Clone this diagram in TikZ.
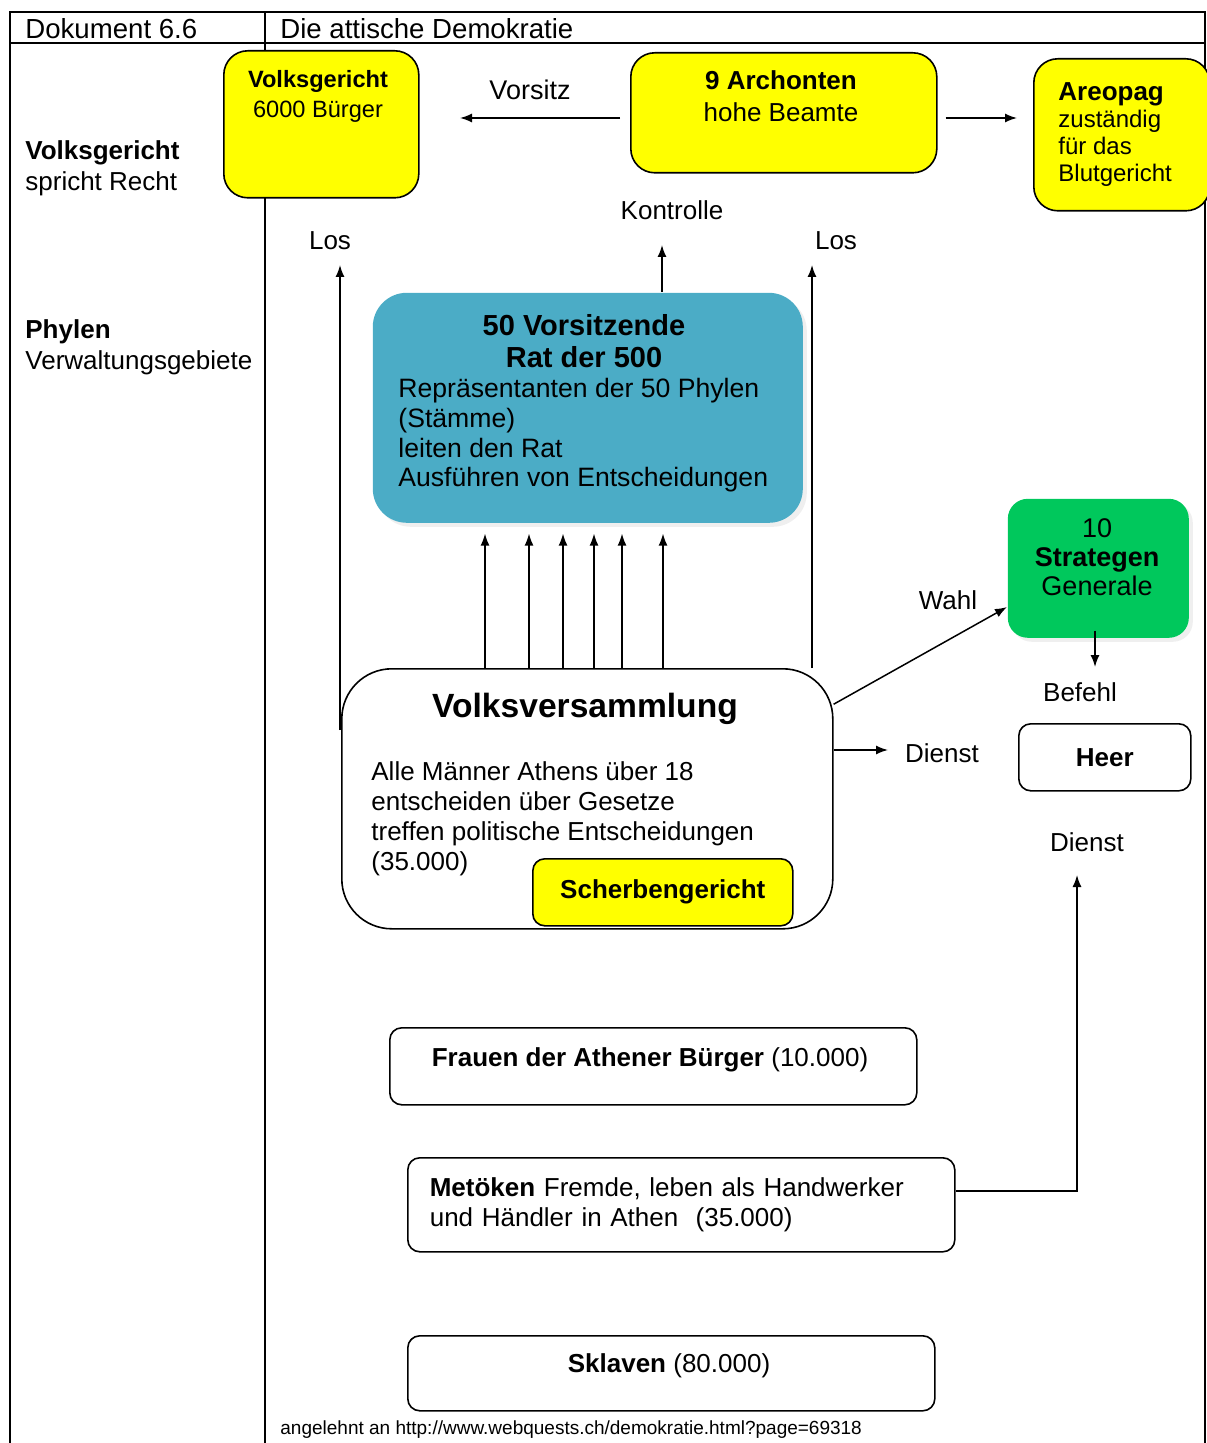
\documentclass[tikz,border=0pt]{standalone}
\usepackage{fontspec}
\setmainfont{Liberation Sans}
\usepackage{tikz}
\usetikzlibrary{arrows.meta, positioning, calc, shadows}
\usepackage{xcolor}
\definecolor{boxyellow}{RGB}{255,255,0}
\definecolor{ratblue}{RGB}{75,172,198}
\definecolor{stratgreen}{RGB}{0,200,92}

\begin{document}
\begin{tikzpicture}[x=0.5pt, y=-0.5pt,
    box/.style={draw, line width=0.8pt, rounded corners=6pt, anchor=north west, inner sep=0pt},
    ybox/.style={box, fill=boxyellow},
    lbl/.style={font=\fontsize{13}{15}\selectfont},
    arr/.style={-{Latex[length=6pt,width=4.5pt]}, line width=0.75pt}]
  \useasboundingbox (0,0) rectangle (1206,1443);
  % frame and header
  \draw[line width=1pt] (10,1443) -- (10,12) -- (1205,12) -- (1205,1443);
  \draw[line width=1pt] (10,43) -- (1205,43);
  \draw[line width=1pt] (265,12) -- (265,1443);
  \node[anchor=west, inner sep=0pt, font=\fontsize{13.8}{15}\selectfont] (dok) at (25,29) {Dokument 6.6};
  \node[anchor=west, inner sep=0pt, font=\fontsize{13.8}{15}\selectfont] (titel) at (280,29) {Die attische Demokratie};
  % left column
  \node[anchor=west, inner sep=0pt, align=left, font=\fontsize{13}{15.5}\selectfont] (vgleft) at (25,168) {\textbf{Volksgericht}\\spricht Recht};
  \node[anchor=west, inner sep=0pt, align=left, font=\fontsize{13}{15.5}\selectfont] (phyleft) at (25,347) {\textbf{Phylen}\\Verwaltungsgebiete};
  % top row
  \node[ybox, rounded corners=12pt, minimum width=97.5pt, minimum height=73.5pt] (vg) at (223,50) {};
  \node[align=center, font=\fontsize{11.8}{15}\selectfont] (vgtext) at (318,96) {\textbf{Volksgericht}\\6000 Bürger};
  \node[ybox, rounded corners=12pt, minimum width=153pt, minimum height=60pt] (arch) at (630,52) {};
  \node[align=center, font=\fontsize{13}{16}\selectfont] (archtext) at (781,96) {\textbf{9 Archonten}\\hohe Beamte};
  \node[ybox, rounded corners=12pt, minimum width=88pt, minimum height=76pt] (areo) at (1033,58) {};
  \node[anchor=west, inner sep=0pt, align=left, font=\fontsize{12}{13.5}\selectfont] (areotext) at (1058,135) {{\fontsize{13}{13.5}\selectfont\textbf{Areopag}}\\zuständig\\für das\\Blutgericht};
  \coordinate (vsend) at (460,118);
  \draw[arr] ([xshift=-5pt]arch.west |- vsend) -- (vsend);
  \node[lbl, font=\fontsize{13.5}{15}\selectfont] (vorsitz) at (530,90) {Vorsitz};
  \draw[arr] ([xshift=4pt]arch.east |- vsend) -- ([xshift=-8pt]areo.west |- vsend);
  % Rat der 500
  \node[box, draw=none, fill=ratblue, rounded corners=17pt, minimum width=215pt, minimum height=115pt,
        drop shadow={fill=black!12, shadow xshift=2pt, shadow yshift=-2pt}] (rat) at (372,292) {};
  \node[align=center, font=\fontsize{14.5}{16}\selectfont\bfseries] (rattitel) at (584,341) {50 Vorsitzende\\Rat der 500};
  \node[anchor=west, inner sep=0pt, align=left, font=\fontsize{13.3}{14.8}\selectfont] (rattext) at (398,435.5)
    {Repräsentanten der 50 Phylen\\(Stämme)\\leiten den Rat\\Ausführen von Entscheidungen};
  % Volksversammlung
  \node[box, rounded corners=25pt, minimum width=245.5pt, minimum height=130pt] (vv) at (341,668) {};
  \node[font=\fontsize{16.8}{18}\selectfont\bfseries] (vvtitel) at (585,709) {Volksversammlung};
  \node[lbl, anchor=west, inner sep=0pt, align=left] (vvtext) at (371,819)
    {Alle Männer Athens über 18\\entscheiden über Gesetze\\treffen politische Entscheidungen\\(35.000)};
  \node[ybox, minimum width=130pt, minimum height=33.5pt, font=\fontsize{13}{15}\selectfont\bfseries] (scherb) at (532,858) {Scherbengericht};
  % Wahlen
  \foreach \x in {485,529,563,594,622,663} {
    \coordinate (p) at (\x,0);
    \draw[arr, shorten >=5pt] (p |- vv.north) -- (p |- rat.south);
  }
  \coordinate (kt) at (662,245);
  \draw[arr] (kt |- rat.north) -- (kt);
  \node[lbl] (kontrolle) at (672,210) {Kontrolle};
  \coordinate (losl) at (340,265);
  \draw[arr] (340,730) -- (losl);
  \node[lbl] (loslt) at (330,241) {Los};
  \coordinate (losr) at (812,265);
  \draw[arr] (losr |- vv.north) -- (losr);
  \node[lbl] (losrt) at (836,241) {Los};
  % Strategen und Heer
  \node[box, draw=none, fill=stratgreen, rounded corners=10pt, minimum width=90.5pt, minimum height=69.5pt,
        drop shadow={fill=black!12, shadow xshift=2pt, shadow yshift=-2pt}] (strat) at (1007,498) {};
  \node[align=center, font=\fontsize{13.5}{14.5}\selectfont] (strattext) at (1097,557) {10\\\textbf{Strategen}\\Generale};
  \draw[arr] (vv.21) -- (strat.203);
  \node[lbl] (wahl) at (948,600) {Wahl};
  \coordinate (befend) at (1095,667);
  \draw[arr] ([yshift=4pt]strat.south -| befend) -- (befend);
  \node[lbl] (befehl) at (1080,692) {Befehl};
  \node[box, minimum width=86pt, minimum height=33.5pt, font=\fontsize{13}{15}\selectfont\bfseries] (heer) at (1018,723) {Heer};
  \coordinate (d1end) at (888,750);
  \draw[arr] (d1end -| vv.east) -- (d1end);
  \node[lbl] (dienst1) at (942,753) {Dienst};
  \node[lbl] (dienst2) at (1087,842) {Dienst};
  % Nicht-Bürger
  \node[box, minimum width=263.5pt, minimum height=38.5pt] (frauen) at (389,1027) {};
  \node[lbl] (frauentext) at (650,1060) {\textbf{Frauen der Athener Bürger} (10.000)};
  \node[box, lbl, text width=251.5pt, inner xsep=11pt, minimum height=47pt, align=left] (met) at (407,1157)
    {\textbf{Metöken} Fremde, leben als Handwerker\\und Händler in Athen\ \ (35.000)};
  \node[box, minimum width=263.5pt, minimum height=37.5pt] (sklav) at (407,1335) {};
  \node[lbl] (sklavtext) at (669,1366) {\textbf{Sklaven} (80.000)};
  \coordinate (d2end) at (1077,875);
  \draw[arr] ([yshift=7pt]met.east) -| (d2end);
  % Quelle
  \node[anchor=west, inner sep=0pt, font=\fontsize{9.5}{11}\selectfont] (quelle) at (280,1430) {angelehnt an http://www.webquests.ch/demokratie.html?page=69318};
\end{tikzpicture}
\end{document}
